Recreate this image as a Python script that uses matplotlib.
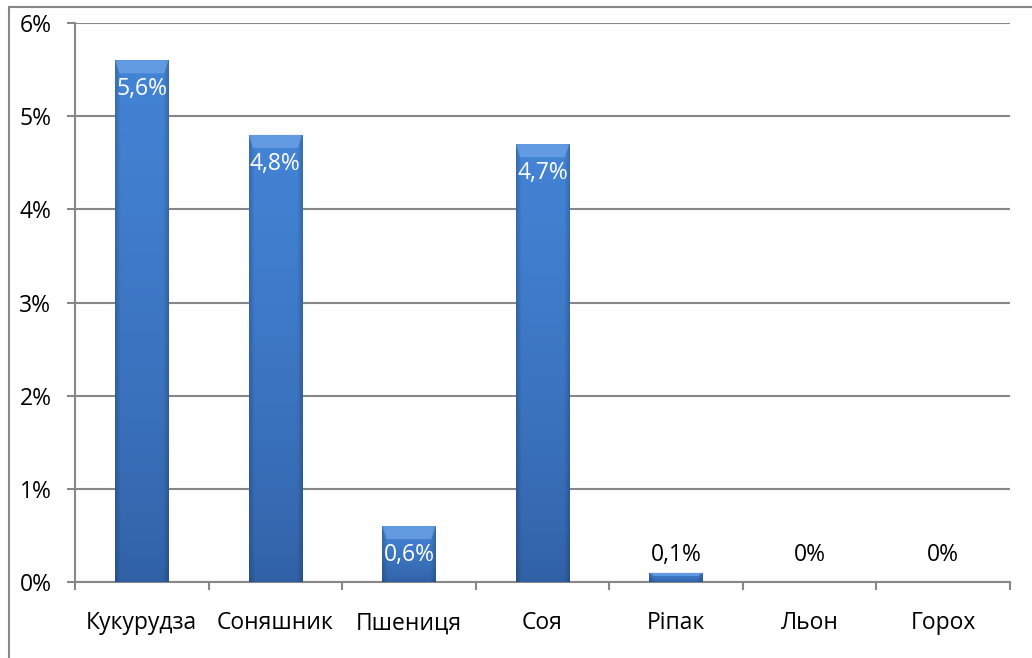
import matplotlib
matplotlib.use("Agg")
import matplotlib.pyplot as plt
import numpy as np
from matplotlib.lines import Line2D

plt.rcParams['font.family'] = ['Open Sans', 'DejaVu Sans']

categories = ["Кукурудза", "Соняшник", "Пшениця", "Соя", "Ріпак", "Льон", "Горох"]
values = [5.6, 4.8, 0.6, 4.7, 0.1, 0.0, 0.0]
labels = ["5,6%", "4,8%", "0,6%", "4,7%", "0,1%", "0%", "0%"]
yticks = [0, 1, 2, 3, 4, 5, 6]
yticklabels = ["0%", "1%", "2%", "3%", "4%", "5%", "6%"]

W, H = 1032, 658
fig = plt.figure(figsize=(W / 100, H / 100), dpi=100)
ax = fig.add_axes([75 / W, 1 - 582 / H, (1010 - 75) / W, (582 - 23) / H])

grid_c = "#878787"
FS = 16.5
x = np.arange(len(categories))
bars = ax.bar(x, values, width=0.4, color="#3b74c2", zorder=3, linewidth=0)

top_c = np.array([0x44, 0x84, 0xd6]) / 255.0
bot_c = np.array([0x30, 0x60, 0xa4]) / 255.0
ny, nx = 200, 64
vy = np.linspace(1, 0, ny)[:, None]          # 1 at top row, 0 at bottom
hx = np.linspace(-1, 1, nx)[None, :]
edge = 1 - 0.18 * np.clip((np.abs(hx) - 0.8) / 0.2, 0, 1)
for b in bars:
    h = b.get_height()
    if h <= 0:
        continue
    x0 = b.get_x()
    w = b.get_width()
    img = (bot_c[None, None, :] + (top_c - bot_c)[None, None, :] * vy[..., None] ** 0.7)
    img = img * edge[..., None]
    im = ax.imshow(np.clip(img, 0, 1), aspect="auto", extent=(x0, x0 + w, 0, h),
                   zorder=3.5, interpolation="bilinear")
    im.set_clip_path(b)
    # lighter top bevel (trapezoid)
    bev = min(0.14, h * 0.35)
    inset = w * 0.08
    ax.fill([x0, x0 + w, x0 + w - inset, x0 + inset], [h, h, h - bev, h - bev],
            color="#7fb0ee", alpha=0.55, zorder=3.6, linewidth=0)

for xi, v, lab in zip(x, values, labels):
    if v >= 0.5:
        ax.text(xi, v - 0.31, lab, ha="center", va="center", color="white",
                fontsize=FS, zorder=5)
    else:
        ax.text(xi, 0.29, lab, ha="center", va="center",
                color="black", fontsize=FS, zorder=5)

ax.set_xlim(-0.5, len(categories) - 0.5)
ax.set_ylim(0, 6)
ax.set_yticks(yticks)
ax.set_yticklabels(yticklabels, fontsize=FS)
ax.yaxis.grid(True, color=grid_c, linewidth=1.5, zorder=0)
ax.set_axisbelow(True)

ax.set_xticks(x)
ax.set_xticklabels(categories, fontsize=FS)
ax.tick_params(axis="x", which="major", length=0, pad=21)
ax.set_xticks(np.arange(-0.5, len(categories)), minor=True)
ax.tick_params(axis="x", which="minor", length=6, width=1.5, color=grid_c, direction="out")
ax.tick_params(axis="y", length=6, width=1.5, color=grid_c, direction="out", pad=11)

for s in ["top", "right"]:
    ax.spines[s].set_visible(False)
for s in ["left", "bottom"]:
    ax.spines[s].set_color(grid_c)
    ax.spines[s].set_linewidth(1.5)

# outer chart frame
fig.add_artist(Line2D([9 / W, 9 / W], [0, 1 - 7 / H], transform=fig.transFigure,
                      color=grid_c, linewidth=1.5))
fig.add_artist(Line2D([9 / W, 1], [1 - 7 / H, 1 - 7 / H], transform=fig.transFigure,
                      color=grid_c, linewidth=1.5))

fig.savefig("out.png", dpi=100, facecolor="white")
